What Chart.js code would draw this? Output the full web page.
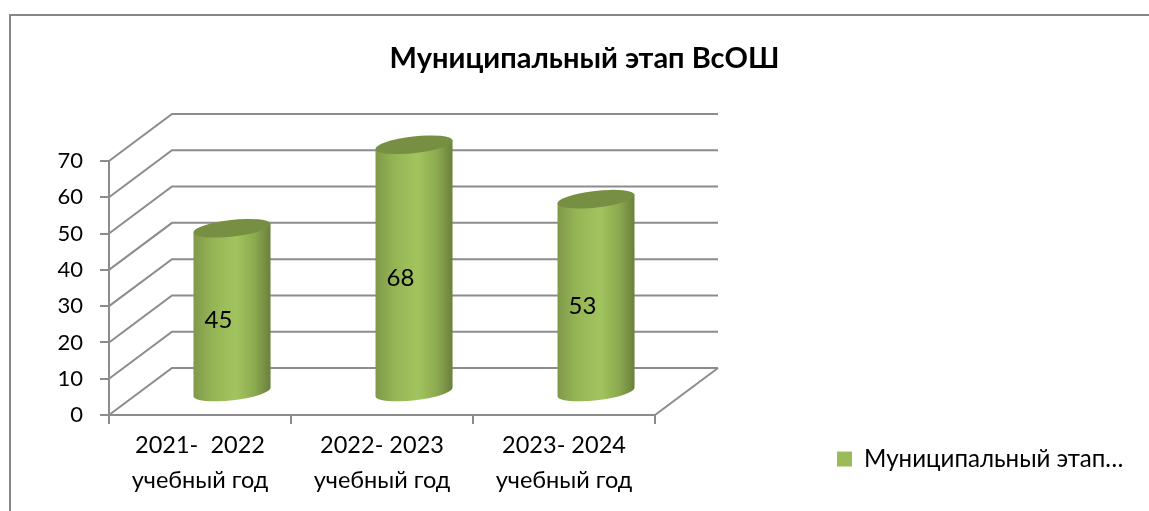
<!DOCTYPE html>
<html>
<head>
<meta charset="utf-8">
<style>
  html, body { margin: 0; padding: 0; background: #fff; }
  #wrap { width: 1149px; height: 511px; }
</style>
<script src="https://cdn.jsdelivr.net/npm/chart.js@4"></script>
</head>
<body>
<div id="wrap"><canvas id="chart" width="1149" height="511"></canvas></div>
<script>
const chartTitle = 'Муниципальный этап ВсОШ';
const seriesName = 'Муниципальный этап…';
const categories = [['2021-  2022', 'учебный год'], ['2022- 2023', 'учебный год'], ['2023- 2024', 'учебный год']];
const values = [45, 68, 53];
const axisMin = 0;
const axisMax = 70;
const axisStep = 10;

const FONT = 'Lato, "Open Sans", sans-serif';
const LINE = '#8c8c8c';
// how far the back wall sits from the front plane
const DEPTH_X = 63;
const DEPTH_Y = -47;

const frame3d = {
    id: 'frame3d',
    afterLayout(chart) {
        // title is centred over the whole frame, legend sits low on the right
        chart.titleBlock.left = 20;
        chart.titleBlock.right = 1149;
        const legend = chart.legend;
        legend.left = 827;
        legend.right = 1149;
        legend.top = 437;
        legend.bottom = 480;
    },
    beforeDraw(chart) {
        const ctx = chart.ctx;
        ctx.save();
        ctx.strokeStyle = '#868686';
        ctx.lineWidth = 2;
        ctx.beginPath();
        ctx.moveTo(10, 511);
        ctx.lineTo(10, 15);
        ctx.lineTo(1149, 15);
        ctx.stroke();
        ctx.restore();
    },
    beforeDatasetsDraw(chart) {
        const { ctx, chartArea, scales } = chart;
        ctx.save();
        ctx.strokeStyle = LINE;
        ctx.lineWidth = 2;
        ctx.beginPath();
        scales.y.ticks.forEach(t => {
            const y = scales.y.getPixelForValue(t.value);
            ctx.moveTo(chartArea.left, y);
            ctx.lineTo(chartArea.left + DEPTH_X, y + DEPTH_Y);
            ctx.lineTo(chartArea.right + DEPTH_X, y + DEPTH_Y);
        });
        // right edge of the floor
        ctx.moveTo(chartArea.right, chartArea.bottom);
        ctx.lineTo(chartArea.right + DEPTH_X, chartArea.bottom + DEPTH_Y);
        ctx.stroke();
        ctx.restore();
    },
    beforeDatasetDraw(chart, args) {
        const ctx = chart.ctx;
        const meta = chart.getDatasetMeta(args.index);
        meta.data.forEach((bar, i) => {
            const cx = bar.x + 32;
            const top = bar.y + DEPTH_Y / 2;
            const base = bar.base + DEPTH_Y / 2 + 1.5;
            const hw = bar.width / 2;
            const a = hw + 0.3, b = 8.3, rot = -0.113;
            const grad = ctx.createLinearGradient(cx - hw, 0, cx + hw, 0);
            grad.addColorStop(0, '#80994a');
            grad.addColorStop(0.25, '#95b555');
            grad.addColorStop(0.55, '#a2c45e');
            grad.addColorStop(0.8, '#8ba94f');
            grad.addColorStop(1, '#6a803c');
            ctx.save();
            ctx.fillStyle = grad;
            ctx.beginPath();
            ctx.moveTo(cx - hw, top + 4.4);
            ctx.lineTo(cx - hw, base + 4.4);
            ctx.ellipse(cx, base, a, b, rot, Math.PI, 0, true);
            ctx.lineTo(cx + hw, top - 4.4);
            ctx.closePath();
            ctx.fill();
            ctx.fillStyle = '#778f42';
            ctx.beginPath();
            ctx.ellipse(cx, top, a, b, rot, 0, Math.PI * 2);
            ctx.fill();
            // value label
            ctx.fillStyle = '#000';
            ctx.font = '24px ' + FONT;
            ctx.textAlign = 'center';
            ctx.textBaseline = 'middle';
            ctx.fillText(values[i], bar.x + 18.5, (bar.y + bar.base) / 2 - 12.5);
            ctx.restore();
        });
        return false;
    }
};

new Chart(document.getElementById('chart'), {
    type: 'bar',
    data: {
        labels: categories,
        datasets: [{
            label: seriesName,
            data: values,
            backgroundColor: '#9BBB59',
            barThickness: 77
        }]
    },
    options: {
        responsive: false,
        animation: false,
        layout: { padding: { left: 20, right: 494, top: 0, bottom: 0 } },
        scales: {
            x: {
                grid: { drawOnChartArea: false, color: LINE, lineWidth: 2, tickLength: 9 },
                border: { color: LINE, width: 2 },
                ticks: {
                    color: '#000',
                    font: { family: FONT, size: 23.5, lineHeight: 1.5 },
                    maxRotation: 0,
                    autoSkip: false,
                    padding: 4
                },
                afterFit(scale) { scale.height = 96; }
            },
            y: {
                min: axisMin,
                max: axisMax,
                grid: { drawOnChartArea: false, color: LINE, lineWidth: 2, tickLength: 9 },
                border: { color: LINE, width: 2 },
                ticks: {
                    stepSize: axisStep,
                    color: '#000',
                    font: { family: FONT, size: 22 },
                    padding: 17
                },
                afterFit(scale) { scale.width = 89; }
            }
        },
        plugins: {
            title: {
                display: true,
                text: chartTitle,
                color: '#000',
                font: { family: FONT, size: 29, weight: 'bold' },
                padding: { top: 41, bottom: 85.2 }
            },
            legend: {
                position: 'chartArea',
                align: 'start',
                labels: {
                    color: '#000',
                    font: { family: FONT, size: 24.1 },
                    boxWidth: 15,
                    boxHeight: 15,
                    padding: 10
                }
            },
            tooltip: { enabled: false }
        }
    },
    plugins: [frame3d]
});
</script>
</body>
</html>
